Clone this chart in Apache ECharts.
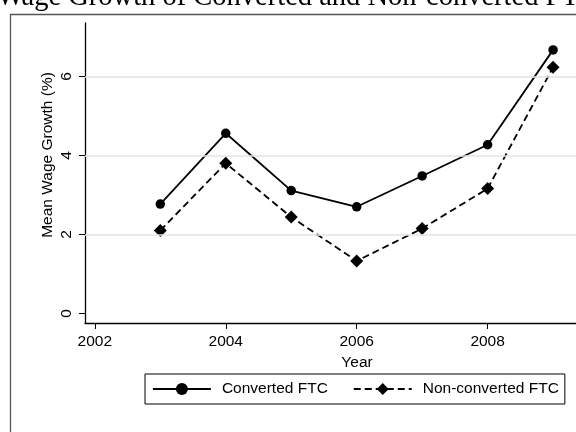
<!DOCTYPE html>
<html>
<head>
<meta charset="utf-8">
<script src="https://cdn.jsdelivr.net/npm/echarts@6/dist/echarts.min.js"></script>
<style>html,body{margin:0;padding:0;background:#fff;}#c{width:576px;height:432px;}</style>
</head>
<body>
<div id="c"></div>
<script>
const titleText = 'Wage Growth of Converted and Non-converted FTC';
const yAxisTitle = 'Mean Wage Growth (%)';
const xAxisTitle = 'Year';
const years = [2003, 2004, 2005, 2006, 2007, 2008, 2009];
const converted = [2.77, 4.56, 3.11, 2.70, 3.48, 4.27, 6.67];
const nonConverted = [2.10, 3.80, 2.44, 1.33, 2.15, 3.16, 6.23];
const xTicks = [2002, 2004, 2006, 2008];
const yTicks = [0, 2, 4, 6];
const gridValues = [2, 4, 6];
const seriesNames = ['Converted FTC', 'Non-converted FTC'];

const font = 'Liberation Sans, Arial, sans-serif';
const chart = echarts.init(document.getElementById('c'), null, {renderer: 'canvas'});
const option = {
  animation: false,
  backgroundColor: '#fff',
  graphic: [
    {type: 'rect', shape: {x: 10.5, y: 14.5, width: 700, height: 600},
     style: {fill: 'none', stroke: '#555', lineWidth: 1.3}, z: 0, silent: true},
    {type: 'text', x: -3, y: -2,
     style: {text: titleText, font: '28.5px "Liberation Serif", serif', fill: '#000',
             textAlign: 'left', textVerticalAlign: 'middle'}},
    {type: 'text', x: 48, y: 155, rotation: Math.PI / 2,
     style: {text: yAxisTitle, font: '15.5px ' + font, fill: '#000',
             textAlign: 'center', textVerticalAlign: 'middle'}}
  ],
  grid: {left: 85, top: 23, right: 0, bottom: 109, containLabel: false},
  xAxis: {
    type: 'value', min: 2001.85, max: 2009.35,
    name: xAxisTitle, nameLocation: 'middle', nameGap: 26,
    nameTextStyle: {fontFamily: font, fontSize: 15.5, color: '#000', padding: [0, 0, 0, 53]},
    axisLine: {show: true, onZero: false, lineStyle: {color: '#000', width: 1.3}},
    axisTick: {show: true, length: 6, customValues: xTicks, lineStyle: {color: '#000', width: 1}},
    axisLabel: {customValues: xTicks, margin: 11, fontFamily: font, fontSize: 15.5, color: '#000',
                formatter: v => String(v)},
    splitLine: {show: false}
  },
  yAxis: {
    type: 'value', min: -0.24, max: 7.35,
    axisLine: {show: true, onZero: false, lineStyle: {color: '#000', width: 1.3}},
    axisTick: {show: true, length: 6, customValues: yTicks, lineStyle: {color: '#000', width: 1}},
    axisLabel: {customValues: yTicks, rotate: 90, margin: 10, fontFamily: font, fontSize: 15.5, color: '#000',
                formatter: v => String(v)},
    splitLine: {show: false}
  },
  legend: {
    data: seriesNames,
    left: 145, top: 374,
    padding: [7, 6, 7, 7],
    itemWidth: 58, itemHeight: 15, itemGap: 25,
    borderColor: '#000', borderWidth: 1, backgroundColor: '#fff',
    lineStyle: {width: 1.8},
    textStyle: {fontFamily: font, fontSize: 15.5, color: '#000', padding: [0, 0, 0, 6]}
  },
  series: [
    {
      name: 'grid', type: 'line', data: [], z: 1, silent: true,
      markLine: {silent: true, symbol: 'none', label: {show: false},
        lineStyle: {color: '#e3e3e3', type: 'solid', width: 1.5},
        data: gridValues.map(v => ({yAxis: v}))}
    },
    {
      name: seriesNames[0], type: 'line', z: 3,
      data: years.map((y, i) => [y, converted[i]]),
      symbol: 'circle', symbolSize: 9.5,
      lineStyle: {color: '#000', width: 1.8, type: 'solid'},
      itemStyle: {color: '#000'}
    },
    {
      name: seriesNames[1], type: 'line', z: 3,
      data: years.map((y, i) => [y, nonConverted[i]]),
      symbol: 'diamond', symbolSize: 13,
      lineStyle: {color: '#000', width: 1.8, type: [7, 4]},
      itemStyle: {color: '#000'}
    }
  ]
};
chart.setOption(option);
</script>
</body>
</html>
